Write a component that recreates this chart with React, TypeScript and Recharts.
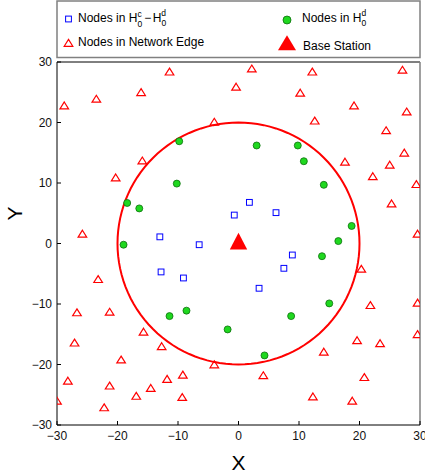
import React from 'react';
import { ComposedChart, Scatter, XAxis, YAxis, ReferenceLine, Legend, Label } from 'recharts';

const TICKS = [-30, -20, -10, 0, 10, 20, 30];
const DOMAIN: [number, number] = [-30, 30];
const COVERAGE_RADIUS = 20;

// Nodes in H0^d (green circles)
const coverageNodes = [
  { x: -9.8, y: 16.9 }, { x: -10.2, y: 9.9 }, { x: -18.4, y: 6.7 }, { x: -16.4, y: 5.8 },
  { x: -19.0, y: -0.2 }, { x: 3.0, y: 16.2 }, { x: 9.8, y: 16.2 }, { x: 10.8, y: 13.6 },
  { x: 14.1, y: 9.7 }, { x: 18.7, y: 2.9 }, { x: 16.5, y: 0.4 }, { x: 13.8, y: -2.1 },
  { x: 15.0, y: -9.9 }, { x: 8.7, y: -12.0 }, { x: 4.3, y: -18.5 }, { x: -11.4, y: -12.0 },
  { x: -8.6, y: -11.1 }, { x: -1.8, y: -14.2 },
];

// Nodes in H0^c - H0^d (blue squares)
const innerNodes = [
  { x: -13.0, y: 1.1 }, { x: -6.5, y: -0.2 }, { x: 1.8, y: 6.8 }, { x: -0.7, y: 4.7 },
  { x: 6.2, y: 5.1 }, { x: -12.8, y: -4.7 }, { x: -9.1, y: -5.7 }, { x: 8.9, y: -1.9 },
  { x: 7.5, y: -4.1 }, { x: 3.4, y: -7.4 },
];

// Nodes in network edge (red open triangles)
const edgeNodes = [
  { x: -28.8, y: 22.8 }, { x: -23.5, y: 23.9 }, { x: -16.1, y: 25.0 }, { x: -11.4, y: 28.4 },
  { x: -4.0, y: 20.1 }, { x: -15.9, y: 13.7 }, { x: -20.3, y: 10.9 }, { x: -25.8, y: 1.6 },
  { x: 2.2, y: 28.9 }, { x: 12.2, y: 28.4 }, { x: 27.1, y: 28.7 }, { x: -0.4, y: 25.9 },
  { x: 10.2, y: 24.9 }, { x: 19.1, y: 22.8 }, { x: 27.8, y: 21.8 }, { x: 12.6, y: 20.3 },
  { x: 24.4, y: 18.7 }, { x: 27.4, y: 15.0 }, { x: 17.6, y: 13.5 }, { x: 25.0, y: 13.0 },
  { x: 22.2, y: 11.1 }, { x: 29.4, y: 9.8 }, { x: 25.3, y: 6.6 }, { x: 29.6, y: 1.6 },
  { x: -23.2, y: -5.9 }, { x: -26.7, y: -11.4 }, { x: -21.3, y: -11.3 }, { x: -15.7, y: -14.6 },
  { x: -27.1, y: -16.4 }, { x: -12.7, y: -17.0 }, { x: -19.4, y: -19.2 }, { x: -4.0, y: -20.0 },
  { x: -28.2, y: -22.7 }, { x: -9.2, y: -21.7 }, { x: -11.8, y: -22.4 }, { x: -21.3, y: -23.5 },
  { x: -14.5, y: -23.9 }, { x: -16.9, y: -25.2 }, { x: -9.3, y: -25.4 }, { x: -30.0, y: -26.0 },
  { x: -22.2, y: -27.1 },
  { x: 20.3, y: -4.2 }, { x: 21.8, y: -10.2 }, { x: 29.6, y: -9.8 }, { x: 29.6, y: -15.0 },
  { x: 19.6, y: -16.0 }, { x: 23.4, y: -16.5 }, { x: 14.1, y: -17.9 }, { x: 4.1, y: -21.8 },
  { x: 20.8, y: -22.1 }, { x: 12.3, y: -25.3 }, { x: 18.8, y: -26.0 },
];

const baseStation = [{ x: 0, y: 0 }];

// circle of radius COVERAGE_RADIUS around the base station
const boundary = Array.from({ length: 121 }, (_, i) => {
  const a = (i / 120) * 2 * Math.PI;
  return { x: COVERAGE_RADIUS * Math.cos(a), y: COVERAGE_RADIUS * Math.sin(a) };
});

const FONT = '"Liberation Sans", Arial, Helvetica, sans-serif';
const RED = '#ff0000';
const BLUE = '#0000ff';
const GREEN = '#1fd81f';
const GREEN_EDGE = '#0c6e0c';

const fmt = (v: number) => (v < 0 ? '\u2212' + Math.abs(v) : String(v));

const OpenTriangle = (p: any) => (
  <path d={`M${p.cx},${p.cy - 3.6} L${p.cx + 4.3},${p.cy + 3.3} L${p.cx - 4.3},${p.cy + 3.3} Z`}
    fill="none" stroke={RED} strokeWidth={1.2} />
);
const OpenSquare = (p: any) => (
  <rect x={p.cx - 2.9} y={p.cy - 2.9} width={5.8} height={5.8} fill="none" stroke={BLUE} strokeWidth={1} />
);
const GreenDot = (p: any) => (
  <circle cx={p.cx} cy={p.cy} r={3.5} fill={GREEN} stroke={GREEN_EDGE} strokeWidth={0.8} />
);
const BaseTriangle = (p: any) => (
  <path d={`M${p.cx},${p.cy - 10.7} L${p.cx + 8.7},${p.cy + 6} L${p.cx - 8.7},${p.cy + 6} Z`} fill={RED} />
);
const NoShape = () => <g />;

const LegendBox = () => (
  <svg width={425} height={62} style={{ display: 'block' }}>
    <rect x={57} y={1} width={363} height={56.5} fill="#fff" stroke="#808080" strokeWidth={1.5} />
    <g fontFamily={FONT} fontSize={12} fill="#000">
      <rect x={65.6} y={16.1} width={5.8} height={5.8} fill="none" stroke={BLUE} strokeWidth={1} />
      <text x={78} y={22}>
        Nodes in H
        <tspan fontSize={8.5} dy={-5.5}>c</tspan>
        <tspan fontSize={8.5} dx={-4.2} dy={10}>0</tspan>
        <tspan dx={2} dy={-4.5}>{'\u2212'}</tspan>
        <tspan dx={1.5}>H</tspan>
        <tspan fontSize={8.5} dy={-6}>d</tspan>
        <tspan fontSize={8.5} dx={-4.7} dy={10}>0</tspan>
      </text>
      <circle cx={287} cy={20} r={4} fill={GREEN} stroke={GREEN_EDGE} strokeWidth={0.8} />
      <text x={302} y={22}>
        Nodes in H
        <tspan fontSize={8.5} dy={-6}>d</tspan>
        <tspan fontSize={8.5} dx={-4.7} dy={10}>0</tspan>
      </text>
      <path d="M68.5,39.4 L72.8,46.3 L64.2,46.3 Z" fill="none" stroke={RED} strokeWidth={1.2} />
      <text x={78} y={46}>Nodes in Network Edge</text>
      <path d="M287,35.3 L296,50.3 L278,50.3 Z" fill={RED} />
      <text x={303} y={49.5}>Base Station</text>
    </g>
  </svg>
);

export default function App() {
  return (
    <div style={{ position: 'absolute', left: 0, top: 0, background: '#fff' }}>
      <ComposedChart width={425} height={475} margin={{ top: 62, right: 5, bottom: 0, left: 0 }}>
        <XAxis
          type="number" dataKey="x" domain={DOMAIN} ticks={TICKS} interval={0} allowDataOverflow
          height={50} tickSize={-4} tickMargin={10} tickFormatter={fmt}
          axisLine={{ stroke: '#000', strokeWidth: 1 }} tickLine={{ stroke: '#000' }}
          tick={{ fill: '#111', fontSize: 12, fontFamily: FONT }}
        >
          <Label content={(props: any) => {
            const vb = props.viewBox || { x: 57, width: 363, y: 425 };
            return (
              <text x={vb.x + vb.width / 2} y={470} textAnchor="middle" fontSize={21} fontFamily={FONT} fill="#000">X</text>
            );
          }} />
        </XAxis>
        <YAxis
          type="number" dataKey="y" domain={DOMAIN} ticks={TICKS} interval={0} allowDataOverflow
          width={57} tickSize={-4} tickMargin={9} tickFormatter={fmt}
          axisLine={{ stroke: '#000', strokeWidth: 1 }} tickLine={{ stroke: '#000' }}
          tick={{ fill: '#111', fontSize: 12, fontFamily: FONT }}
        >
          <Label content={(props: any) => {
            const vb = props.viewBox || { y: 62, height: 363 };
            const cy = vb.y + vb.height / 2 - 30;
            return (
              <text x={21.5} y={cy} textAnchor="middle" fontSize={21} fontFamily={FONT} fill="#000"
                transform={`rotate(-90, 21.5, ${cy})`}>Y</text>
            );
          }} />
        </YAxis>
        <ReferenceLine y={30} stroke="#000" strokeWidth={1} />
        <ReferenceLine x={30} stroke="#808080" strokeWidth={1.5} />
        <Legend
          layout="horizontal" verticalAlign="middle" align="center"
          wrapperStyle={{ left: 0, top: 0, width: 425, height: 62 }}
          content={() => <LegendBox />}
        />
        <Scatter name="boundary" data={boundary} line={{ stroke: RED, strokeWidth: 2 }} lineType="joint"
          shape={NoShape} isAnimationActive={false} legendType="none" />
        <Scatter name="Nodes in Network Edge" data={edgeNodes} shape={OpenTriangle} isAnimationActive={false} />
        <Scatter name="Nodes in H0c-H0d" data={innerNodes} shape={OpenSquare} isAnimationActive={false} />
        <Scatter name="Nodes in H0d" data={coverageNodes} shape={GreenDot} isAnimationActive={false} />
        <Scatter name="Base Station" data={baseStation} shape={BaseTriangle} isAnimationActive={false} />
      </ComposedChart>
    </div>
  );
}
